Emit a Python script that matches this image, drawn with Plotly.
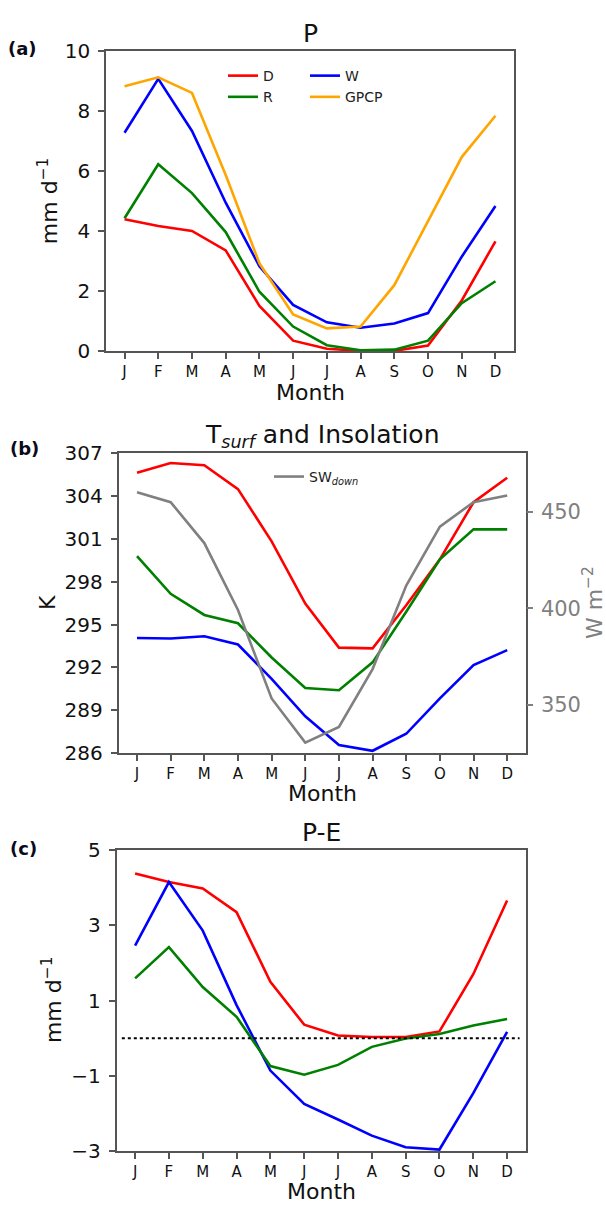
import plotly.graph_objects as go

months = ["J", "F", "M", "A", "M", "J", "J", "A", "S", "O", "N", "D"]
month_idx = list(range(12))

# Panel (a) precipitation, mm/d
P_D = [4.40, 4.17, 4.01, 3.36, 1.51, 0.35, 0.08, 0.01, 0.01, 0.19, 1.69, 3.66]
P_R = [4.43, 6.23, 5.27, 3.97, 1.98, 0.82, 0.20, 0.03, 0.05, 0.35, 1.60, 2.33]
P_W = [7.28, 9.08, 7.34, 4.95, 2.83, 1.54, 0.96, 0.78, 0.92, 1.27, 3.15, 4.84]
P_GPCP = [8.83, 9.13, 8.61, 5.87, 2.93, 1.22, 0.76, 0.82, 2.20, 4.35, 6.47, 7.85]

# Panel (b) surface temperature (K) and insolation (W m-2)
T_D = [305.63, 306.31, 306.15, 304.48, 300.82, 296.47, 293.38, 293.33, 296.35, 299.56, 303.56, 305.28]
T_R = [299.79, 297.15, 295.67, 295.09, 292.69, 290.56, 290.40, 292.35, 295.89, 299.56, 301.66, 301.66]
T_W = [294.06, 294.02, 294.18, 293.60, 291.20, 288.57, 286.57, 286.16, 287.35, 289.83, 292.16, 293.21]
SW_down = [460.2, 455.1, 433.9, 399.2, 353.4, 330.5, 338.6, 368.6, 411.9, 442.4, 455.1, 458.5]

# Panel (c) P-E, mm/d
PE_D = [4.38, 4.15, 3.98, 3.35, 1.50, 0.36, 0.07, 0.03, 0.03, 0.18, 1.70, 3.66]
PE_W = [2.46, 4.15, 2.86, 0.88, -0.86, -1.75, -2.16, -2.59, -2.90, -2.96, -1.46, 0.17]
PE_R = [1.59, 2.42, 1.36, 0.57, -0.74, -0.97, -0.71, -0.23, -0.01, 0.11, 0.34, 0.51]

RED, GREEN, BLUE, ORANGE, GRAY = "#ff0000", "#008000", "#0000ff", "#ffa500", "#808080"
FONT = "DejaVu Sans"
W, H = 606, 1215
LW = 2.6

fig = go.Figure()

def line(x, y, color, xa, ya, name=None, legend=None):
    fig.add_trace(go.Scatter(
        x=x, y=y, mode="lines", line=dict(color=color, width=LW),
        xaxis=xa, yaxis=ya, name=name,
        showlegend=legend is not None, legend=legend if legend else "legend"))

# panel a
line(month_idx, P_D, RED, "x", "y", "D", "legend")
line(month_idx, P_R, GREEN, "x", "y", "R", "legend")
line(month_idx, P_W, BLUE, "x", "y", "W", "legend2")
line(month_idx, P_GPCP, ORANGE, "x", "y", "GPCP", "legend2")
# panel b
line(month_idx, SW_down, GRAY, "x2", "y4", "SW<sub><i>down</i></sub>", "legend3")
line(month_idx, T_D, RED, "x2", "y2")
line(month_idx, T_R, GREEN, "x2", "y2")
line(month_idx, T_W, BLUE, "x2", "y2")
# panel c
line(month_idx, PE_D, RED, "x3", "y3")
line(month_idx, PE_W, BLUE, "x3", "y3")
line(month_idx, PE_R, GREEN, "x3", "y3")

def px_x(a, b):
    return [a / W, b / W]

def px_y(top, bottom):
    return [1 - bottom / H, 1 - top / H]

FRAME = "#555555"
xcommon = dict(range=[-0.55, 11.55], tickvals=month_idx, ticktext=months,
               ticks="outside", ticklen=6, tickwidth=1.5, tickcolor=FRAME,
               showline=True, linecolor=FRAME, linewidth=1.6, mirror=True,
               showgrid=False, zeroline=False,
               tickfont=dict(family=FONT, size=15, color="#111"))
ycommon = dict(ticks="outside", ticklen=6, tickwidth=1.5, tickcolor=FRAME,
               showline=True, linecolor=FRAME, linewidth=1.6, mirror=True,
               showgrid=False, zeroline=False, ticklabelstandoff=4,
               tickfont=dict(family=FONT, size=20, color="#111"))

A = dict(x=(106, 514), y=(40, 346))
B = dict(x=(118.5, 525.7), y=(450, 756))
C = dict(x=(116.5, 525.7), y=(855, 1162))

fig.update_layout(
    width=W, height=H, margin=dict(l=0, r=0, t=0, b=0),
    paper_bgcolor="white", plot_bgcolor="white",
    font=dict(family=FONT, color="#111"),
    xaxis=dict(domain=px_x(*A["x"]), anchor="y", **xcommon),
    yaxis=dict(domain=px_y(*A["y"]), anchor="x", range=[0, 10], tickvals=[0, 2, 4, 6, 8, 10], **ycommon),
    xaxis2=dict(domain=px_x(*B["x"]), anchor="y2", **xcommon),
    yaxis2=dict(domain=px_y(*B["y"]), anchor="x2", range=[286, 307],
                tickvals=[286, 289, 292, 295, 298, 301, 304, 307], **ycommon),
    yaxis4=dict(overlaying="y2", side="right", anchor="x2", range=[325.1, 480.5],
                tickvals=[350, 400, 450], ticks="outside", ticklen=6, tickwidth=1.5,
                tickcolor=GRAY, showline=False, showgrid=False, zeroline=False,
                ticklabelstandoff=4,
                tickfont=dict(family=FONT, size=21, color=GRAY)),
    xaxis3=dict(domain=px_x(*C["x"]), anchor="y3", **xcommon),
    yaxis3=dict(domain=px_y(*C["y"]), anchor="x3", range=[-3, 5], tickvals=[-3, -1, 1, 3, 5], **ycommon),
    legend=dict(x=223 / W, y=1 - 49 / H, xanchor="left", yanchor="top",
                bgcolor="rgba(0,0,0,0)", font=dict(family=FONT, size=14, color="#222"),
                tracegroupgap=0),
    legend2=dict(x=305 / W, y=1 - 49 / H, xanchor="left", yanchor="top",
                 bgcolor="rgba(0,0,0,0)", font=dict(family=FONT, size=14, color="#222"),
                 tracegroupgap=0),
    legend3=dict(x=269 / W, y=1 - 458 / H, xanchor="left", yanchor="top",
                 bgcolor="rgba(0,0,0,0)", font=dict(family=FONT, size=14, color="#222")),
)

# dotted zero line in panel c
fig.add_shape(type="line", xref="x3 domain", yref="y3", x0=0.013, x1=0.985, y0=0, y1=0,
              line=dict(color="black", width=2, dash="dot"))

def ann(text, xp, yp, size, color="#111", angle=0, bold=False):
    fig.add_annotation(text=f"<b>{text}</b>" if bold else text,
                       x=xp / W, y=1 - yp / H, xref="paper", yref="paper",
                       xanchor="center", yanchor="middle", showarrow=False,
                       textangle=angle, font=dict(family=FONT, size=size, color=color))

# titles
ann("P", 310, 22, 25)
ann("T<sub><i>surf</i></sub> and Insolation", 322, 433, 25)
ann("P-E", 321, 837, 25)
# panel labels
ann("(a)", 22.5, 37, 18, color="#0a0a1a", bold=True)
ann("(b)", 24.5, 445, 18, color="#0a0a1a", bold=True)
ann("(c)", 23, 853, 18, color="#0a0a1a", bold=True)
# x titles
ann("Month", 310, 388, 22)
ann("Month", 322, 797, 22)
ann("Month", 321, 1203, 22)
# y titles
ann("mm d<sup>−1</sup>", 48, 193, 22, angle=-90)
ann("K", 47, 603, 22, angle=-90)
ann("mm d<sup>−1</sup>", 52, 1008, 22, angle=-90)
ann("W m<sup>−2</sup>", 593, 603, 22, color=GRAY, angle=-90)

fig.write_html("out.html")
